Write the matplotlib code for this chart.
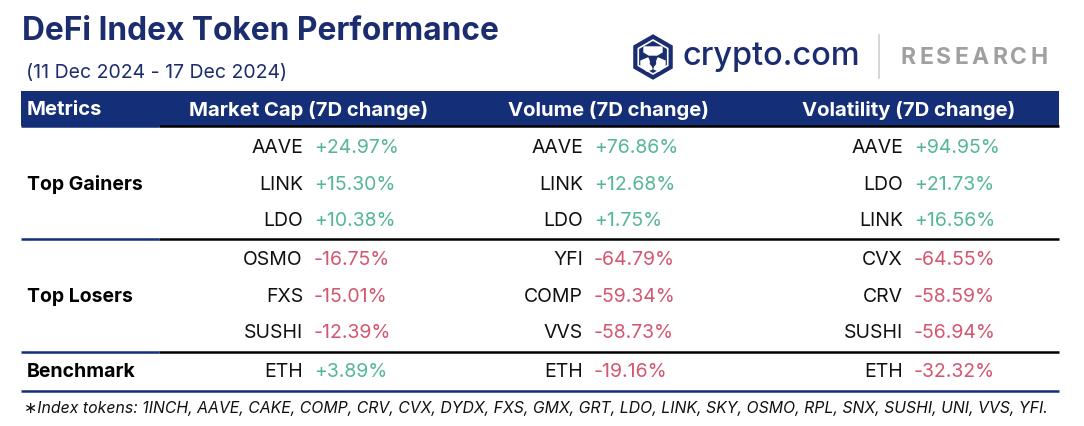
import matplotlib.pyplot as plt
from matplotlib.patches import Rectangle, RegularPolygon, Polygon, Circle

# Data
title = 'DeFi Index Token Performance'
subtitle = '(11 Dec 2024 - 17 Dec 2024)'
columns = ['Market Cap (7D change)', 'Volume (7D change)', 'Volatility (7D change)']
groups = ['Top Gainers', 'Top Losers', 'Benchmark']
mcap_tokens = ['AAVE', 'LINK', 'LDO', 'OSMO', 'FXS', 'SUSHI', 'ETH']
mcap_values = [24.97, 15.30, 10.38, -16.75, -15.01, -12.39, 3.89]
vol_tokens = ['AAVE', 'LINK', 'LDO', 'YFI', 'COMP', 'VVS', 'ETH']
vol_values = [76.86, 12.68, 1.75, -64.79, -59.34, -58.73, -19.16]
vola_tokens = ['AAVE', 'LDO', 'LINK', 'CVX', 'CRV', 'SUSHI', 'ETH']
vola_values = [94.95, 21.73, 16.56, -64.55, -58.59, -56.94, -32.32]
footnote = ('\u2217Index tokens: 1INCH, AAVE, CAKE, COMP, CRV, CVX, DYDX, FXS, GMX, GRT, '
            'LDO, LINK, SKY, OSMO, RPL, SNX, SUSHI, UNI, VVS, YFI.')

NAVY = '#142f78'
TITLE_NAVY = '#1b2d6e'
GREEN = '#55b795'
RED = '#d45770'
FONT = ['Inter', 'DejaVu Sans']

fig = plt.figure(figsize=(10.84, 4.26), dpi=100)
ax = fig.add_axes([0, 0, 1, 1])
ax.set_xlim(0, 1084)
ax.set_ylim(426, 0)
ax.axis('off')

# title block
ax.text(22, 32, title, fontsize=22.8, fontweight='bold', color=TITLE_NAVY,
        va='center', ha='left', family=FONT)
ax.text(26, 73, subtitle, fontsize=14, color=TITLE_NAVY, va='center', ha='left', family=FONT)

# logo (rough sketch of the crypto.com mark)
ax.add_patch(RegularPolygon((653, 57), 6, radius=22, orientation=0, color=TITLE_NAVY))
ax.add_patch(RegularPolygon((653, 57), 6, radius=17, orientation=0, fill=False,
                            ec='white', lw=1.2))
ax.add_patch(Polygon([[644, 47], [662, 47], [662, 52], [657, 55], [649, 55], [644, 52]],
                     color='white'))
ax.add_patch(Polygon([[641, 61], [648, 58], [652, 69], [647, 71], [641, 66]], color='white'))
ax.add_patch(Polygon([[665, 61], [658, 58], [654, 69], [659, 71], [665, 66]], color='white'))
ax.add_patch(Circle((653, 63), 2.5, color=TITLE_NAVY))
ax.text(682, 56, 'crypto.com', fontsize=23.4, fontweight='medium', color=TITLE_NAVY,
        va='center', ha='left', family=FONT)
ax.plot([879, 879], [35, 78], color='#d0d0d0', lw=1.2)

# spaced "RESEARCH" lettering
fig.canvas.draw()
renderer = fig.canvas.get_renderer()
x = 901
for ch in 'RESEARCH':
    t = ax.text(x, 58, ch, fontsize=16.5, fontweight='bold', color='#a0a0a0',
                va='center', ha='left', family=FONT)
    x += t.get_window_extent(renderer).width + 3.2

# header bar
ax.add_patch(Rectangle((21, 91), 1038, 35, color=NAVY, lw=0))
ax.text(27, 110, 'Metrics', fontsize=14.6, fontweight='bold', color='white',
        va='center', ha='left', family=FONT)
for cx, col in zip([309, 609, 909], columns):
    ax.text(cx, 110, col, fontsize=14.6, fontweight='bold', color='white',
            va='center', ha='center', family=FONT)


def sep(y, full_navy=False):
    if full_navy:
        ax.plot([21, 1059], [y, y], color=NAVY, lw=1.8, solid_capstyle='butt')
    else:
        ax.plot([21, 159], [y, y], color=NAVY, lw=1.8, solid_capstyle='butt')
        ax.plot([159, 1059], [y, y], color='black', lw=1.8, solid_capstyle='butt')


sep(126)
sep(239)
sep(352)
sep(391, full_navy=True)

row_y = [148, 185, 221, 260, 297, 333, 372]
group_y = [185, 297, 372]
for gy, g in zip(group_y, groups):
    ax.text(27, gy, g, fontsize=14, fontweight='bold', color='black',
            va='center', ha='left', family=FONT)

name_x = [303, 583, 903]
tables = [(mcap_tokens, mcap_values), (vol_tokens, vol_values), (vola_tokens, vola_values)]
for nx, (toks, vals) in zip(name_x, tables):
    for y, tok, v in zip(row_y, toks, vals):
        ax.text(nx, y, tok, fontsize=14, color='#111111', va='center', ha='right', family=FONT)
        ax.text(nx + 11, y, f'{v:+.2f}%', fontsize=14, color=GREEN if v >= 0 else RED,
                va='center', ha='left', family=FONT)

ax.text(24, 409, footnote, fontsize=11.4, style='italic', color='#111111',
        va='center', ha='left', family=FONT)

fig.savefig('out.png', dpi=100, facecolor='white')
